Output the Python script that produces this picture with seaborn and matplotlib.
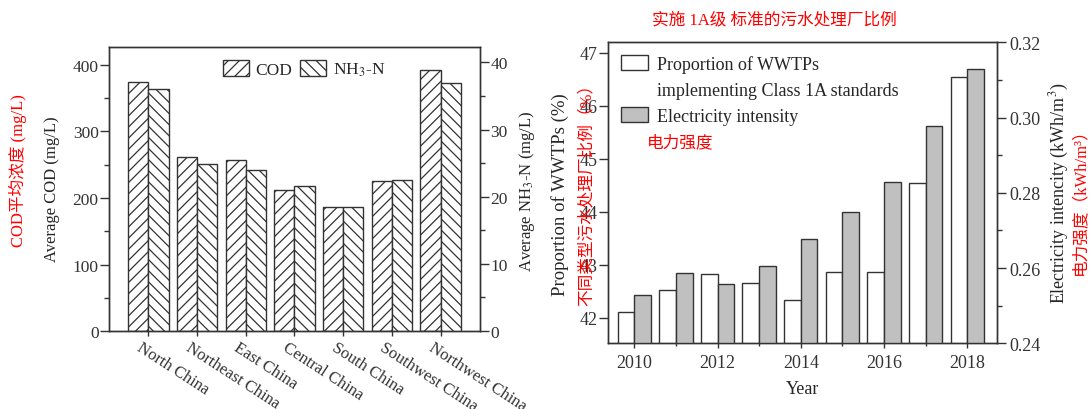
import matplotlib
matplotlib.use("Agg")
import matplotlib.pyplot as plt
import matplotlib.transforms as mtransforms
from matplotlib.patches import Patch
from matplotlib.ticker import MultipleLocator, FormatStrFormatter
import seaborn as sns
import pandas as pd

# left panel: average influent concentration by region
regions = ["North China", "Northeast China", "East China", "Central China",
           "South China", "Southwest China", "Northwest China"]
cod = [375, 262, 257, 212, 187, 225, 393]
nh3n = [36.0, 24.9, 24.0, 21.6, 18.4, 22.5, 37.0]

# right panel: share of Class 1A plants and electricity intensity
years = [2010, 2011, 2012, 2013, 2014, 2015, 2016, 2017, 2018]
proportion = [42.12, 42.53, 42.83, 42.65, 42.33, 42.87, 42.86, 44.54, 46.55]
electricity = [0.2528, 0.2586, 0.2557, 0.2606, 0.2677, 0.2748, 0.2829, 0.2977, 0.3129]
year_ticks = ["2010", "2012", "2014", "2016", "2018"]

sns.set_style("ticks")
plt.rcParams["font.family"] = ["Liberation Serif", "Noto Sans CJK SC"]
plt.rcParams["mathtext.fontset"] = "stix"
plt.rcParams["axes.edgecolor"] = "#333333"
plt.rcParams["xtick.color"] = "#333333"
plt.rcParams["ytick.color"] = "#333333"
plt.rcParams["hatch.linewidth"] = 0.9

EDGE = "#333333"
RED = "#ff0000"
CJK = ["Liberation Serif", "Noto Sans CJK SC"]

fig = plt.figure(figsize=(10.92, 4.10), dpi=100)

# ---------------- left panel ----------------
ax1 = fig.add_axes([0.0998, 0.1902, 0.3397, 0.6927])
ax2 = ax1.twinx()

hue_order = ["COD", "NH3-N"]
df_cod = pd.DataFrame({"region": regions, "value": cod, "series": "COD"})
df_nh3 = pd.DataFrame({"region": regions, "value": nh3n, "series": "NH3-N"})

sns.barplot(data=df_cod, x="region", y="value", hue="series", order=regions,
            hue_order=hue_order, palette=["white", "white"], edgecolor=EDGE,
            linewidth=1, width=0.83, gap=0, dodge=True, legend=False, ax=ax1)
sns.barplot(data=df_nh3, x="region", y="value", hue="series", order=regions,
            hue_order=hue_order, palette=["white", "white"], edgecolor=EDGE,
            linewidth=1, width=0.83, gap=0, dodge=True, legend=False, ax=ax2)
for p in ax1.patches:
    p.set_hatch("///")
for p in ax2.patches:
    p.set_hatch("\\\\\\")

ax1.set_ylim(0, 427)
ax2.set_ylim(0, 42.3)
ax1.set_xlim(-0.81, 6.81)
ax1.yaxis.set_major_locator(MultipleLocator(100))
ax1.yaxis.set_minor_locator(MultipleLocator(50))
ax2.yaxis.set_major_locator(MultipleLocator(10))
ax2.yaxis.set_minor_locator(MultipleLocator(5))
ax1.tick_params(axis="y", which="major", direction="out", length=6.5, width=1, labelsize=12.5, pad=1)
ax1.tick_params(axis="y", which="minor", direction="out", length=3.5, width=1)
ax2.tick_params(axis="y", which="major", direction="out", length=6.5, width=1, labelsize=12.5, pad=1)
ax2.tick_params(axis="y", which="minor", direction="out", length=3.5, width=1)
ax1.tick_params(axis="x", which="major", direction="inout", length=7, width=1, labelsize=12, pad=2)

ax1.set_xticks(range(len(regions)))
ax1.set_xticklabels(regions, rotation=-33, ha="left", va="top", rotation_mode="anchor")
shift = mtransforms.ScaledTranslation(-6 / 100, 0, fig.dpi_scale_trans)
for lab in ax1.get_xticklabels():
    lab.set_transform(lab.get_transform() + shift)

ax1.set_xlabel("")
ax1.set_ylabel("Average COD (mg/L)", fontsize=12)
ax1.yaxis.set_label_coords(-0.132, 0.503)
ax2.set_ylabel("Average NH$_3$-N (mg/L)", fontsize=12)
ax2.yaxis.set_label_coords(1.10, 0.496)
for sp in ax1.spines.values():
    sp.set_linewidth(1)
for sp in ax2.spines.values():
    sp.set_linewidth(1)

left_handles = [
    Patch(facecolor="white", edgecolor=EDGE, hatch="///", label="COD"),
    Patch(facecolor="white", edgecolor=EDGE, hatch="\\\\\\", label="NH$_3$-N"),
]
ax2.legend(handles=left_handles, loc="upper center", bbox_to_anchor=(0.525, 1.0),
           ncol=2, frameon=False, fontsize=12.5, handlelength=1.5, handleheight=1.0,
           handletextpad=0.35, columnspacing=0.5, borderaxespad=0.35)

fig.text(0.0168, 0.583, "COD平均浓度 (mg/L)", rotation=90, color=RED,
         fontsize=12, ha="center", va="center", family=CJK)

# ---------------- right panel ----------------
ax3 = fig.add_axes([0.557, 0.1602, 0.3562, 0.734])
ax4 = ax3.twinx()

hue_order2 = ["Proportion", "Electricity"]
df_prop = pd.DataFrame({"year": years, "value": proportion, "series": "Proportion"})
df_elec = pd.DataFrame({"year": years, "value": electricity, "series": "Electricity"})

sns.barplot(data=df_prop, x="year", y="value", hue="series", order=years,
            hue_order=hue_order2, palette=["white", "#c0c0c0"], saturation=1,
            edgecolor=EDGE, linewidth=1, width=0.8, gap=0, dodge=True,
            legend=False, ax=ax3)
sns.barplot(data=df_elec, x="year", y="value", hue="series", order=years,
            hue_order=hue_order2, palette=["white", "#c0c0c0"], saturation=1,
            edgecolor=EDGE, linewidth=1, width=0.8, gap=0, dodge=True,
            legend=False, ax=ax4)

ax3.set_ylim(41.52, 47.2)
ax4.set_ylim(0.24, 0.32)
ax3.set_xlim(-0.625, 8.72)
ax3.set_xticks([0, 2, 4, 6, 8])
ax3.set_xticklabels(year_ticks)
ax3.set_xticks([1, 3, 5, 7], minor=True)
ax3.yaxis.set_major_locator(MultipleLocator(1))
ax4.yaxis.set_major_locator(MultipleLocator(0.02))
ax4.yaxis.set_minor_locator(MultipleLocator(0.01))
ax4.yaxis.set_major_formatter(FormatStrFormatter("%.2f"))

ax3.tick_params(axis="x", which="major", direction="inout", length=7, width=1, labelsize=13, pad=4)
ax3.tick_params(axis="x", which="minor", direction="inout", length=5, width=1)
ax3.tick_params(axis="y", which="major", direction="out", length=6.5, width=1, labelsize=13, pad=1)
ax4.tick_params(axis="y", which="major", direction="out", length=6.5, width=1, labelsize=13, pad=2)
ax4.tick_params(axis="y", which="minor", direction="out", length=3.5, width=1)

ax3.set_xlabel("Year", fontsize=13, labelpad=7)
ax3.set_ylabel("Proportion of WWTPs (%)", fontsize=13.5)
ax3.yaxis.set_label_coords(-0.101, 0.496)
ax4.set_ylabel("Electricity intencity (kWh/m$^3$)", fontsize=13)
ax4.yaxis.set_label_coords(1.130, 0.503)
for sp in ax3.spines.values():
    sp.set_linewidth(1)
for sp in ax4.spines.values():
    sp.set_linewidth(1)

right_handles = [
    Patch(facecolor="white", edgecolor=EDGE, linewidth=1, label="Proportion of WWTPs"),
    Patch(facecolor="none", edgecolor="none", label="implementing Class 1A standards"),
    Patch(facecolor="#c0c0c0", edgecolor=EDGE, linewidth=1, label="Electricity intensity"),
]
ax4.legend(handles=right_handles, loc="upper left", frameon=False, fontsize=13,
           handlelength=1.5, handleheight=0.9, handletextpad=0.5,
           labelspacing=0.45, borderaxespad=0.3)

fig.text(0.709, 0.951, "实施 1A级 标准的污水处理厂比例", color=RED, fontsize=12,
         ha="center", va="center", family=CJK)
fig.text(0.5925, 0.651, "电力强度", color=RED, fontsize=12,
         ha="left", va="center", family=CJK)
fig.text(0.5375, 0.534, "不同类型污水处理厂比例（%）", rotation=90, color=RED,
         fontsize=12, ha="center", va="center", family=CJK)
fig.text(0.9895, 0.517, "电力强度（kWh/m³）", rotation=90, color=RED,
         fontsize=12, ha="center", va="center", family=CJK)

fig.savefig("out.png", dpi=100)
